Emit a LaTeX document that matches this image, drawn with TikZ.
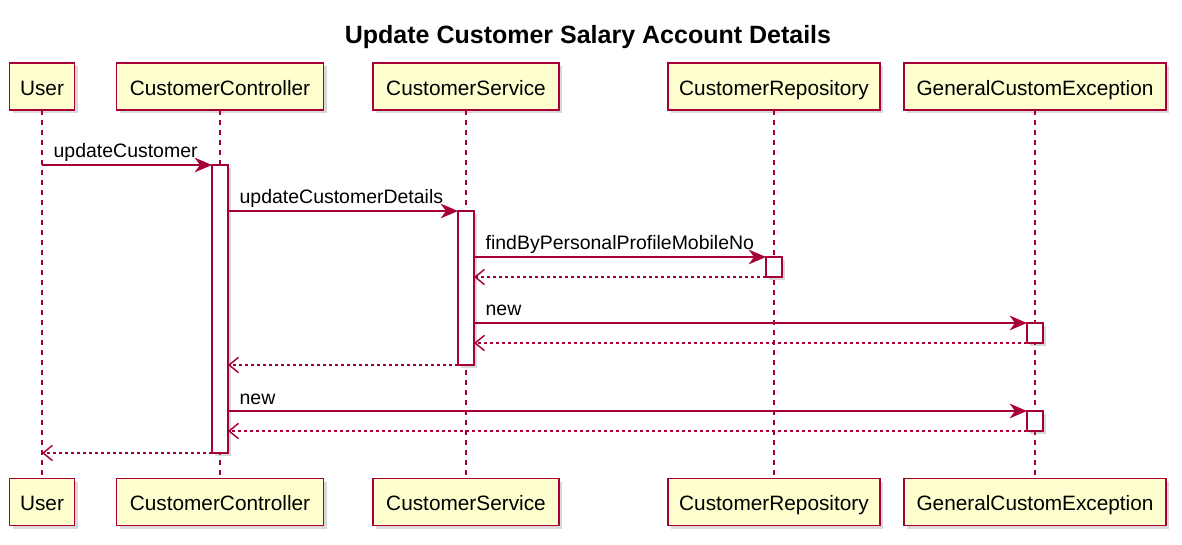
\documentclass[tikz,border=0pt]{standalone}
\usepackage{fontspec}
\setmainfont{Liberation Sans}
\usetikzlibrary{arrows.meta,shadows}
\definecolor{umlred}{HTML}{A80036}
\definecolor{umlfill}{HTML}{FEFECE}
\newcommand{\upx}{0.75pt}
\tikzset{
  part/.style={draw=umlred, fill=umlfill, line width=1.4pt, minimum height=47*\upx,
    inner sep=0pt, outer sep=0pt, text height=13pt, text depth=0.2pt,
    font=\fontsize{15.6}{18}\selectfont,
    drop shadow={shadow xshift=2.5pt, shadow yshift=-2.5pt, opacity=0.3}},
  life/.style={draw=umlred, line width=1pt, dash pattern=on 3.75pt off 3.75pt},
  act/.style={draw=umlred, fill=white, line width=1.1pt, minimum width=16*\upx,
    inner sep=0pt, outer sep=0pt,
    drop shadow={shadow xshift=2pt, shadow yshift=-2pt, opacity=0.3}},
  call/.style={draw=umlred, line width=1pt, -{Stealth[length=13pt, width=11pt, inset=4pt]}},
  ret/.style={draw=umlred, line width=1pt, dash pattern=on 2.25pt off 2.25pt,
    -{Straight Barb[length=7pt, width=11.5pt, line width=1.1pt]}},
  msg/.style={anchor=base west, xshift=8.25pt, yshift=5.25pt, inner sep=0pt,
    font=\fontsize{14.6}{17}\selectfont},
}
\begin{document}
\begin{tikzpicture}[x=0.75pt, y=-0.75pt]
\useasboundingbox (0,0) rectangle (1182,545);
% Title
\node[font=\bfseries\fontsize{18.75}{22}\selectfont] (title) at (588,37) {Update Customer Salary Account Details};

% Participants and lifelines
\foreach \n/\x/\w/\t in {user/42/65/User, ctrl/220/207/CustomerController,
    svc/466/186/CustomerService, repo/774/212/CustomerRepository,
    exc/1035/262/GeneralCustomException} {
  \node[part, minimum width=\w*\upx] (\n) at (\x,86.5) {\t};
  \node[part, minimum width=\w*\upx] (\n-b) at (\x,502) {\t};
  \draw[life] (\n.south) -- (\n-b.north);
}

% Activations
\node[act, minimum height=288*\upx] (act-ctrl) at (220,309) {};
\node[act, minimum height=154*\upx] (act-svc) at (466,288) {};
\node[act, minimum height=20*\upx] (act-repo) at (774,267) {};
\node[act, minimum height=20*\upx] (act-exc1) at (1035,333) {};
\node[act, minimum height=20*\upx] (act-exc2) at (1035,421) {};

% Messages
\draw[call] (user |- act-ctrl.north) node[msg] {updateCustomer} -- (act-ctrl.north west);
\draw[call] (act-ctrl.east |- act-svc.north) node[msg] {updateCustomerDetails} -- (act-svc.north west);
\draw[call] (act-svc.east |- act-repo.north) node[msg] {findByPersonalProfileMobileNo} -- (act-repo.north west);
\draw[ret] (act-repo.south west) -- (act-svc.east |- act-repo.south);
\draw[call] (act-svc.east |- act-exc1.north) node[msg] {new} -- (act-exc1.north west);
\draw[ret] (act-exc1.south west) -- (act-svc.east |- act-exc1.south);
\draw[ret] (act-svc.south west) -- (act-ctrl.east |- act-svc.south);
\draw[call] (act-ctrl.east |- act-exc2.north) node[msg] {new} -- (act-exc2.north west);
\draw[ret] (act-exc2.south west) -- (act-ctrl.east |- act-exc2.south);
\draw[ret] (act-ctrl.south west) -- (user |- act-ctrl.south);
\end{tikzpicture}
\end{document}
